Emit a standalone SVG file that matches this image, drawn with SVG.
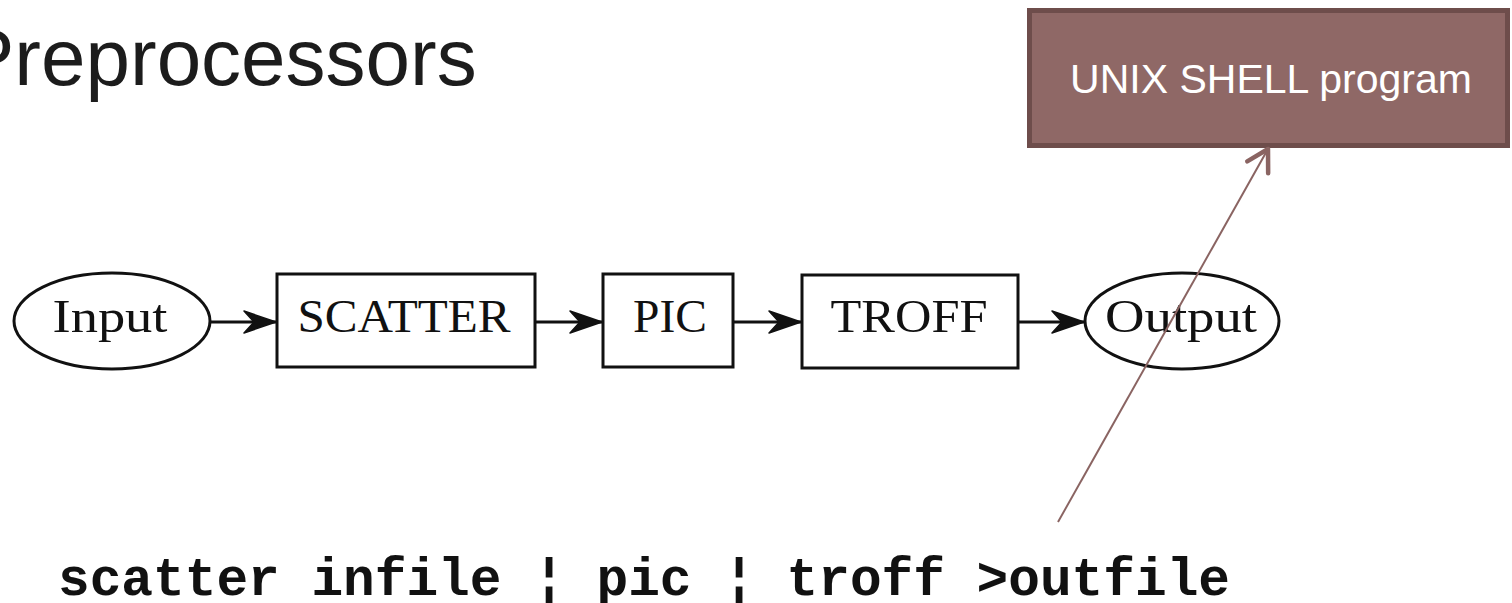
<svg xmlns="http://www.w3.org/2000/svg" width="1512" height="603" viewBox="0 0 1512 603">
  <style>
    .title { font-family: "Liberation Sans", Arial, sans-serif; font-size: 80px; fill: #1c1c1c; }
    .node { fill: #ffffff; stroke: #111111; stroke-width: 3; }
    .label { font-family: "Liberation Serif", "Times New Roman", serif; font-size: 46px; fill: #111111; text-anchor: middle; }
    .flow { stroke: #111111; stroke-width: 3; fill: none; }
    .callout { fill: #8f6866; stroke: #6e4d4b; stroke-width: 5; }
    .callout-text { font-family: "Liberation Sans", Arial, sans-serif; font-size: 41px; fill: #ffffff; text-anchor: middle; }
    .pointer { stroke: #8a6462; stroke-width: 2; fill: none; }
    .command { font-family: "Liberation Mono", "Courier New", monospace; font-size: 53px; font-weight: bold; fill: #111111; }
  </style>
  <defs>
    <marker id="dart" markerUnits="userSpaceOnUse" markerWidth="40" markerHeight="30" refX="0" refY="0" viewBox="-36 -15 40 30" orient="auto">
      <path d="M0,0 L-32,-11 L-22,0 L-32,11 Z" fill="#111111" stroke="#111111" stroke-width="1.5" stroke-linejoin="round"/>
    </marker>
    <marker id="vee" markerUnits="userSpaceOnUse" markerWidth="30" markerHeight="30" refX="0" refY="0" viewBox="-26 -15 30 30" orient="auto">
      <path d="M-21,-12 L0,0 L-21,12" fill="none" stroke="#8a6462" stroke-width="4.5" stroke-linecap="round" stroke-linejoin="round"/>
    </marker>
  </defs>

  <rect width="1512" height="603" fill="#ffffff"/>

  <text class="title" x="-39" y="85">Preprocessors</text>

  <g id="callout">
    <rect class="callout" x="1029.5" y="10.5" width="478" height="135"/>
    <text class="callout-text" x="1271" y="93">UNIX SHELL program</text>
  </g>

  <g id="input">
    <ellipse class="node" cx="112" cy="321" rx="98" ry="48"/>
    <text class="label" x="110" y="332" textLength="115" lengthAdjust="spacingAndGlyphs">Input</text>
  </g>
  <g id="scatter">
    <rect class="node" x="277" y="274" width="258" height="93"/>
    <text class="label" x="404" y="332" textLength="213" lengthAdjust="spacingAndGlyphs">SCATTER</text>
  </g>
  <g id="pic">
    <rect class="node" x="603" y="274" width="130" height="93"/>
    <text class="label" x="670" y="332" textLength="74" lengthAdjust="spacingAndGlyphs">PIC</text>
  </g>
  <g id="troff">
    <rect class="node" x="802" y="275" width="216" height="93"/>
    <text class="label" x="909" y="332" textLength="157" lengthAdjust="spacingAndGlyphs">TROFF</text>
  </g>
  <g id="output">
    <ellipse class="node" cx="1182" cy="321" rx="97" ry="48"/>
    <text class="label" x="1181" y="332" textLength="152" lengthAdjust="spacingAndGlyphs">Output</text>
  </g>

  <g id="connectors">
    <line class="flow" x1="210" y1="322" x2="276" y2="322" marker-end="url(#dart)"/>
    <line class="flow" x1="535" y1="322" x2="602" y2="322" marker-end="url(#dart)"/>
    <line class="flow" x1="733" y1="322" x2="801" y2="322" marker-end="url(#dart)"/>
    <line class="flow" x1="1018" y1="322" x2="1084" y2="322" marker-end="url(#dart)"/>
    <line class="pointer" x1="1058" y1="522" x2="1268" y2="149" marker-end="url(#vee)"/>
  </g>

  <text class="command" x="58" y="595" textLength="1172" lengthAdjust="spacingAndGlyphs">scatter infile ¦ pic ¦ troff &gt;outfile</text>
</svg>
